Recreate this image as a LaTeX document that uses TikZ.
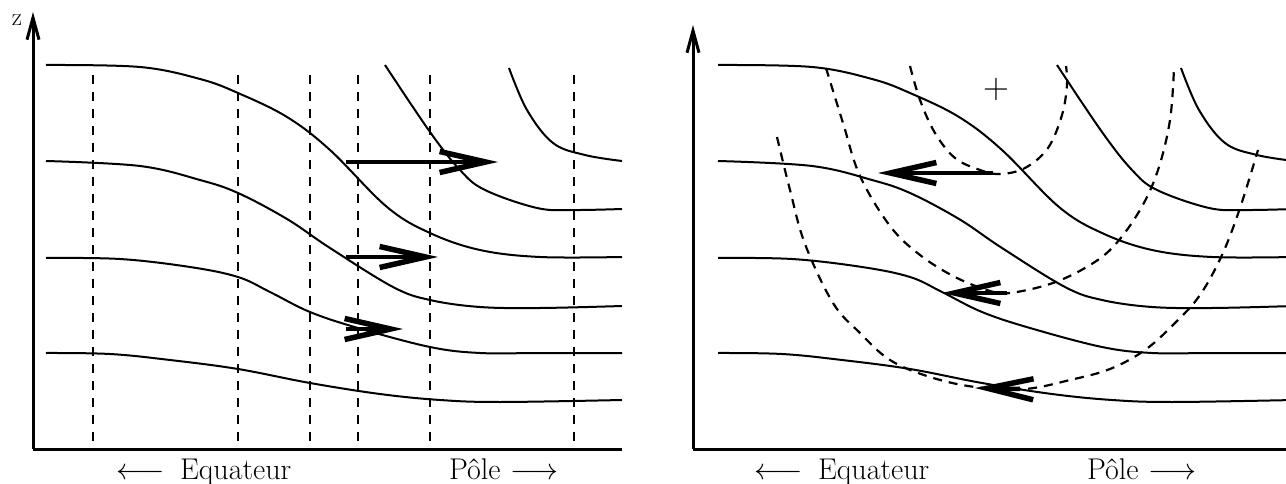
\RequirePackage{fix-cm}
\documentclass[tikz,border=0pt]{standalone}
\usetikzlibrary{arrows.meta}
\newcommand\isoCurves{%
  \draw[iso] plot[smooth,tension=0.6] coordinates {(46,65) (140,67) (200,79) (238,93) (287,117) (330,150) (387,207) (430,233) (480,250) (540,257) (622,257)};
  \draw[iso] plot[smooth,tension=0.6] coordinates {(46,161) (140,166) (200,180) (238,193) (287,219) (330,248) (393,287) (430,300) (480,307) (540,308) (622,306)};
  \draw[iso] plot[smooth,tension=0.6] coordinates {(46,258) (120,259) (190,267) (238,277) (270,292) (310,312) (358,328) (430,347) (480,353) (540,353) (622,353)};
  \draw[iso] plot[smooth,tension=0.6] coordinates {(46,353) (110,354) (170,360) (238,369) (310,383) (380,394) (440,400) (500,402) (622,400)};
  \draw[iso] plot[smooth,tension=0.6] coordinates {(385,65) (430,132) (460,170) (485,190) (537,208) (574,210) (622,209)};
  \draw[iso] plot[smooth,tension=0.6] coordinates {(509,68) (527,110) (553,143) (585,155) (622,161)};
}
\begin{document}
\begin{tikzpicture}[x=1pt,y=-1pt,
  iso/.style={line width=2pt},
  vdash/.style={line width=2.4pt,dash pattern=on 9pt off 8pt},
  cdash/.style={line width=2.2pt,dash pattern=on 9pt off 7pt},
  axis/.style={line width=3pt},
  axisarrow/.style={axis,-{Straight Barb[length=22pt,width=12pt]}},
  flow/.style={line width=4.5pt,-{Straight Barb[sharp,length=46pt,width=21pt,line width=5.5pt 0]}},
  lbl/.style={font=\fontsize{30}{36}\selectfont,anchor=base,inner sep=0pt}]
\useasboundingbox (0,0) rectangle (1286,484);

% ---------- left panel ----------
\foreach \x in {93,238,310,358,430,574} \draw[vdash] (\x,75) -- (\x,449);
\isoCurves
\coordinate (la0) at (33,449);
\coordinate (la1) at (33,12);
\coordinate (la2) at (622,449);
\draw[axisarrow] (la0) -- (la1);
\draw[axis] (la0) -- (la2);
\node[font=\fontsize{25}{30}\selectfont,inner sep=0pt] (zlab) at (17,20) {z};

\coordinate (f1s) at (346,162); \coordinate (f1e) at (498,162);
\coordinate (f2s) at (346,257); \coordinate (f2e) at (438,257);
\coordinate (f3s) at (346,329); \coordinate (f3e) at (403,329);
\draw[flow] (f1s) -- (f1e);
\draw[flow] (f2s) -- (f2e);
\draw[flow] (f3s) -- (f3e);

\node[lbl] (eqL) at (204,479) {$\longleftarrow$\hspace{15pt}Equateur};
\node[lbl] (poL) at (504,479) {P\^ole\hspace{10pt}$\longrightarrow$};

% ---------- right panel ----------
\begin{scope}
  \clip (0,0) rectangle (1286,484);
  \begin{scope}[xshift=672pt]
    \isoCurves
  \end{scope}
\end{scope}
\coordinate (ra0) at (693,449);
\coordinate (ra1) at (693,25);
\coordinate (ra2) at (1286,449);
\draw[axisarrow] (ra0) -- (ra1);
\draw[axis] (ra0) -- (ra2);

\draw[cdash] plot[smooth,tension=0.6] coordinates {(910,66) (920,100) (935,133) (955,158) (980,170) (1000,174) (1025,168) (1048,148) (1062,115) (1067,85) (1066,66)};
\draw[cdash] plot[smooth,tension=0.6] coordinates {(826,68) (843,123) (860,176) (890,226) (920,255) (955,277) (990,291) (1010,293) (1050,284) (1085,268) (1113,247) (1140,210) (1158,170) (1170,120) (1174,68)};
\draw[cdash] plot[smooth,tension=0.6] coordinates {(777,137) (790,190) (805,244) (833,303) (860,333) (890,360) (930,377) (975,387) (1025,389) (1070,380) (1110,369) (1145,350) (1175,323) (1200,295) (1222,255) (1240,208) (1258,150)};

\coordinate (g1s) at (993,173); \coordinate (g1e) at (878,173);
\coordinate (g2s) at (1007,293); \coordinate (g2e) at (942,293);
\coordinate (g3s) at (1020,389); \coordinate (g3e) at (975,388);
\draw[flow] (g1s) -- (g1e);
\draw[flow] (g2s) -- (g2e);
\draw[flow] (g3s) -- (g3e);

\node[font=\fontsize{36}{42}\selectfont,inner sep=0pt] (plus) at (996,90) {+};
\node[lbl] (eqR) at (842,479) {$\longleftarrow$\hspace{15pt}Equateur};
\node[lbl] (poR) at (1142,479) {P\^ole\hspace{10pt}$\longrightarrow$};
\end{tikzpicture}
\end{document}
